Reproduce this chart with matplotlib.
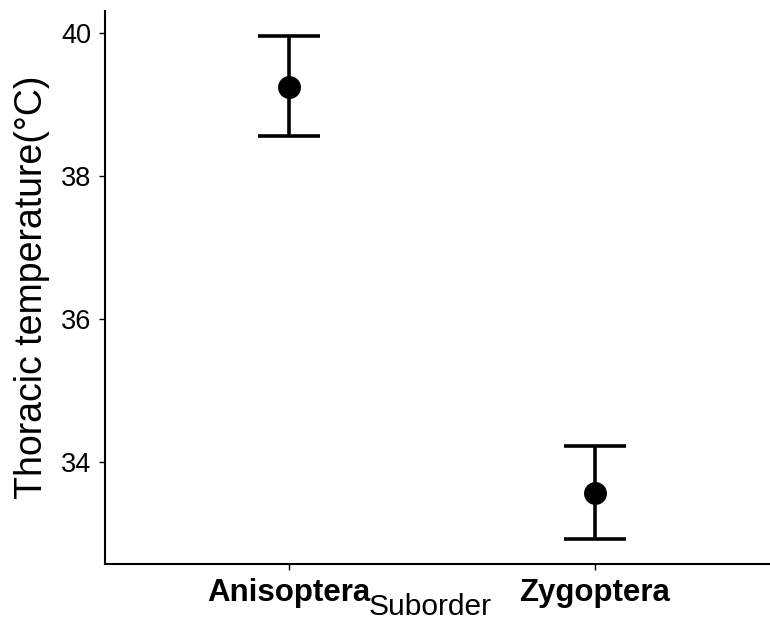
import matplotlib.pyplot as plt
import numpy as np

plt.rcParams['font.family'] = ['Liberation Sans', 'DejaVu Sans']

suborders = ["Anisoptera", "Zygoptera"]
means = [39.245, 33.56]
upper = [39.96, 34.22]
lower = [38.56, 32.92]
y_ticks = [34, 36, 38, 40]

fig = plt.figure(figsize=(7.7, 6.39), dpi=100)
ax = fig.add_axes([105 / 770, 75 / 639, 665 / 770, 553 / 639])

x = np.arange(1, len(suborders) + 1)
means = np.array(means)
err = [means - np.array(lower), np.array(upper) - means]

ax.errorbar(x, means, yerr=err, fmt='o', color='black', ecolor='black',
            markersize=15.5, elinewidth=2.6, capthick=2.6, capsize=22)

span = max(upper) - min(lower)
ax.set_ylim(min(lower) - 0.05 * span, max(upper) + 0.05 * span)
ax.set_xlim(0.4, 0.4 + 665 / 306)

ax.set_xticks(x)
ax.set_xticklabels(suborders, fontsize=22.5, fontweight='bold')
ax.set_yticks(y_ticks)
ax.set_yticklabels([str(t) for t in y_ticks], fontsize=19.5)
ax.tick_params(length=4, width=1)
ax.tick_params(axis='x', pad=6)
ax.tick_params(axis='y', pad=6)

ax.spines['top'].set_visible(False)
ax.spines['right'].set_visible(False)
ax.spines['left'].set_linewidth(1.5)
ax.spines['bottom'].set_linewidth(1.5)

ax.set_xlabel("Suborder", fontsize=21.5)
ax.xaxis.set_label_coords(0.489, -0.052)
ax.set_ylabel("Thoracic temperature(°C)", fontsize=27, labelpad=8)

fig.savefig("out.png", dpi=100)
